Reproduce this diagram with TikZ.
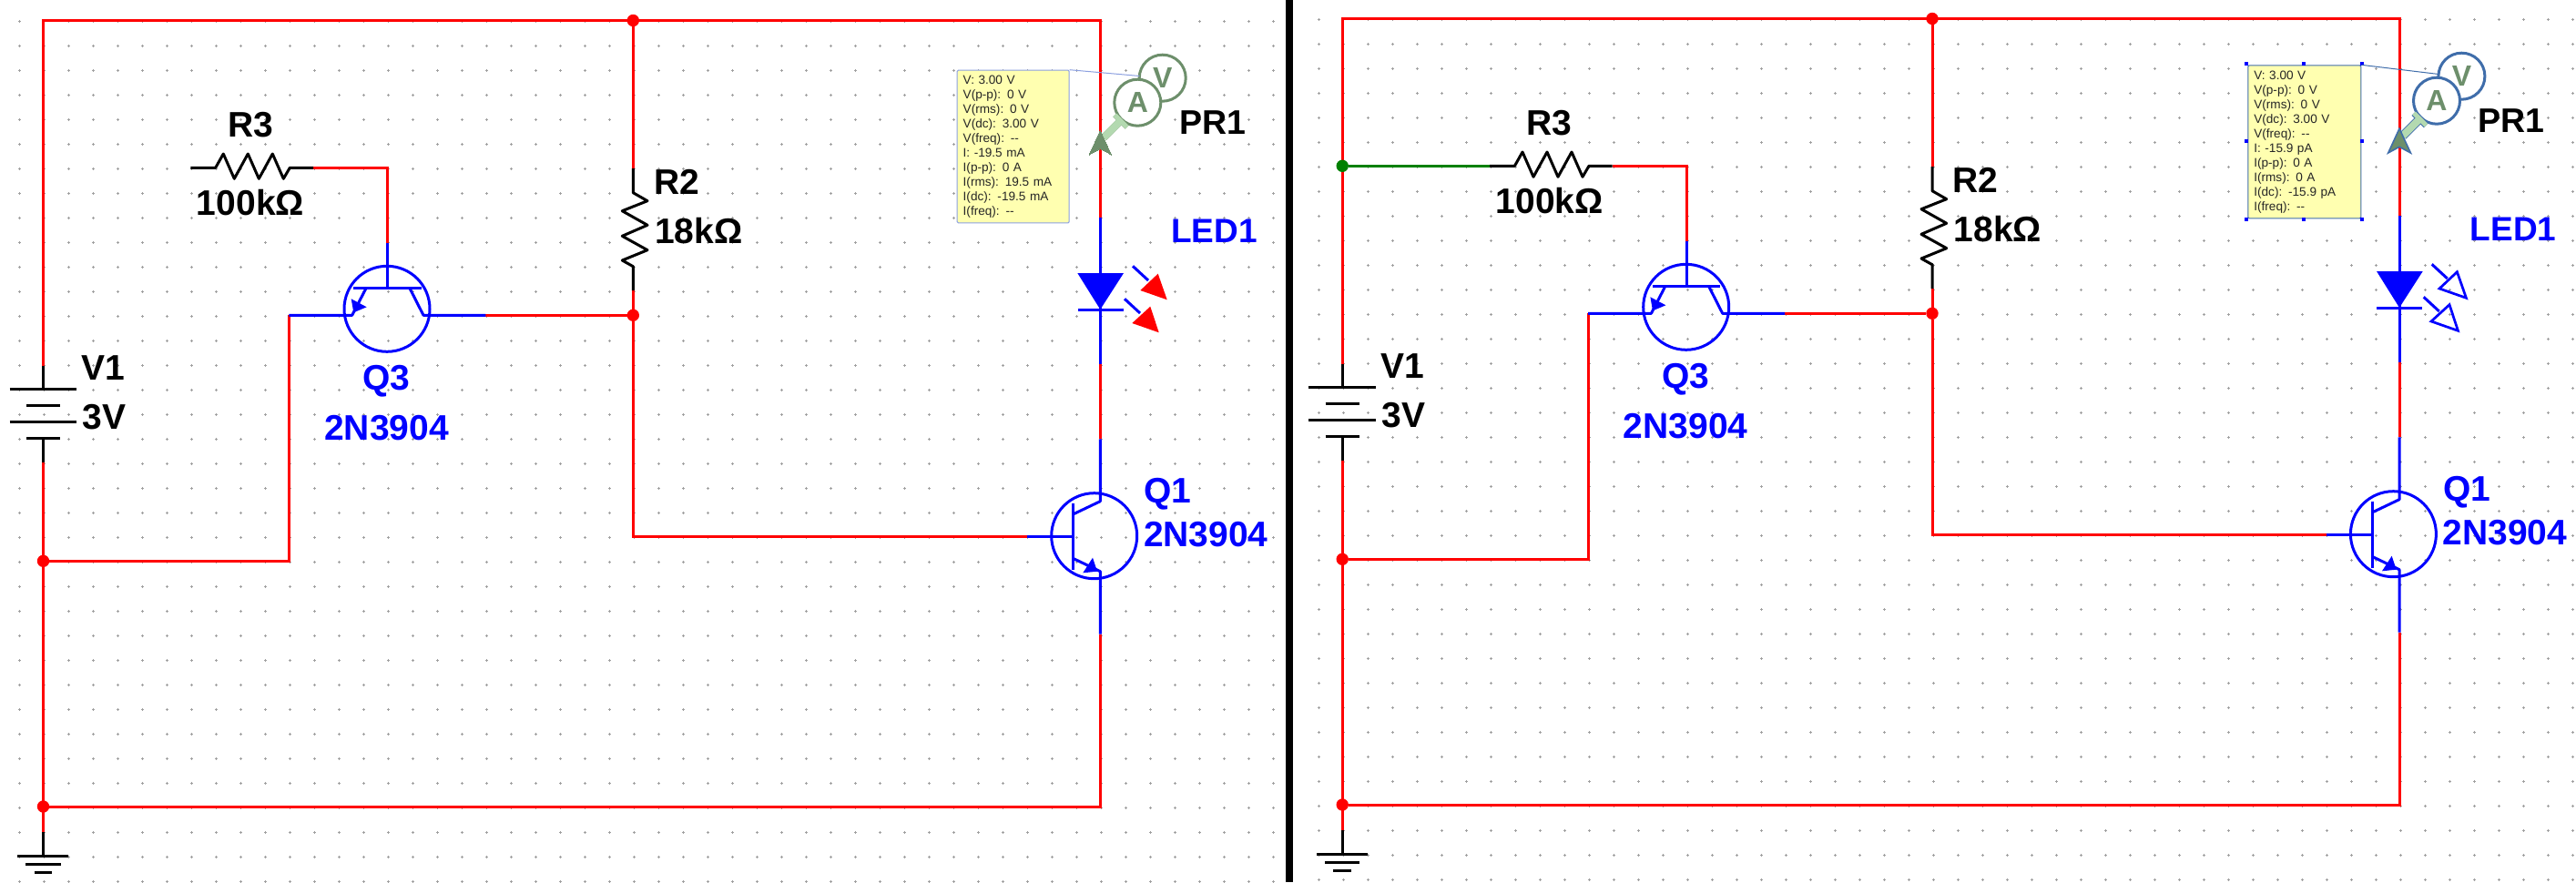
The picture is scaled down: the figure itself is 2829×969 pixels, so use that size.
\documentclass[tikz,border=0pt]{standalone}
\usepackage{fontspec}
\setmainfont{Liberation Sans}
\definecolor{wirered}{HTML}{FF0000}
\definecolor{partblue}{HTML}{0000FF}
\definecolor{netgreen}{HTML}{008000}
\definecolor{probegreen}{HTML}{6D8F6B}
\definecolor{shaftgreen}{HTML}{B3D9B0}
\definecolor{notefill}{HTML}{FFFFB0}
\definecolor{gridgrey}{HTML}{A0A0A0}
\definecolor{noteedge}{HTML}{8CA0E0}
\definecolor{selblue}{HTML}{3F6DAA}
\tikzset{
  gridmark/.style={draw=gridgrey,line width=.8pt},
  wire/.style={draw=wirered,line width=3pt,line join=miter},
  netwire/.style={draw=netgreen,line width=3pt},
  partline/.style={draw=partblue,line width=3pt,line join=round},
  blackline/.style={draw=black,line width=3pt,line join=round},
  junction/.style={circle,fill=wirered,minimum size=13.4pt,inner sep=0,outer sep=0},
  netjunction/.style={circle,fill=netgreen,minimum size=13.4pt,inner sep=0,outer sep=0},
  bjt/.style={circle,draw=partblue,line width=3pt,minimum size=94pt,inner sep=0,outer sep=0},
  reflabel/.style={inner sep=0,outer sep=0,font=\fontsize{39}{39}\selectfont\bfseries},
  bluelabel/.style={reflabel,text=partblue},
  notebox/.style={anchor=north west,rounded corners=1.2pt,fill=notefill,line width=1pt,
    inner xsep=6.5pt,inner ysep=0,align=left,font=\fontsize{13.6}{16}\selectfont,text=black!85},
  probering/.style={circle,fill=white,line width=3pt,minimum size=51pt,inner sep=0,outer sep=0,
    text=probegreen,font=\fontsize{32}{32}\selectfont\bfseries},
}
\newcommand{\circuit}{%
  % grid
  \draw[gridmark] \foreach \k in {0,...,51}{\foreach \j in {0,...,35}{
    ({21.6+27*\k-1.5},{23.3+27*\j}) -- +(3,0) ({21.6+27*\k},{23.3+27*\j-1.5}) -- +(0,3)}};
  % fixed places
  \coordinate (tl) at (47.5,22.5);
  \coordinate (bat1) at (47.5,401.7);
  \coordinate (bat2) at (47.5,508.3);
  \coordinate (gndtop) at (47.5,914);
  \coordinate (tr) at (1208.3,22.5);
  \coordinate (ledtop) at (1208.3,239.3);
  \coordinate (ledbot) at (1208.3,400);
  \coordinate (q1top) at (1208.3,482.3);
  \coordinate (q1low) at (1208.3,696.7);
  \coordinate (br) at (1208.3,886);
  \coordinate (r2top) at (695.3,185);
  \coordinate (r2bot) at (695.3,319);
  \coordinate (r3l) at (209.3,184.3);
  \coordinate (r3r) at (344,184.3);
  \coordinate (q3up) at (425.7,266.7);
  \coordinate (q3left) at (317.3,346.3);
  \coordinate (q3right) at (533.3,346.3);
  \coordinate (q1base) at (1128.3,589.3);
  \node[junction] (jt) at (695.3,22.5) {};
  \node[junction] (jm) at (695.3,346.3) {};
  \node[junction] (jb) at (47.5,616.3) {};
  \node[junction] (jg) at (47.5,886) {};
  % red wires
  \draw[wire] (bat1) -- (tl) -- (tr) -- (ledtop);
  \draw[wire] (bat2) -- (gndtop);
  \draw[wire] (jt) -- (r2top);
  \draw[wire] (r2bot) -- (jm) -- (695.3,589.3) -- (q1base);
  \draw[wire] (q3right) -- (jm);
  \draw[wire] (r3r) -- (425.7,184.3) -- (q3up);
  \draw[wire] (jb) -- (317.3,616.3) -- (q3left);
  \draw[wire] (q1low) -- (br) -- (jg);
  \draw[wire] (ledbot) -- (q1top);
  % battery
  \draw[blackline] (bat1) -- (47.5,427.3) (bat2) -- (47.5,481.3);
  \draw[blackline] (10.7,427.3) -- (84.3,427.3) (29,445.3) -- (66,445.3)
    (10.7,463.3) -- (84.3,463.3) (29,481.3) -- (66,481.3);
  % ground
  \draw[blackline] (gndtop) -- (47.5,940.3);
  \draw[blackline] (19.3,940.3) -- (75.3,940.3) (28.3,949.3) -- (66.7,949.3) (37.7,958.3) -- (57.3,958.3);
  % R3
  \draw[blackline] (r3l) -- (236.7,184.3) -- (245.3,169) -- (257.3,196.3) -- (272.3,169)
    -- (284.3,196.3) -- (299.3,169) -- (311.3,196.3) -- (318.3,184.3) -- (r3r);
  % R2
  \draw[blackline] (r2top) -- (695.3,211.7) -- (711,220.7) -- (683.3,231.7) -- (711,247.3)
    -- (683.3,259.3) -- (711,274.7) -- (683.3,286) -- (695.3,292.7) -- (r2bot);
  % Q3
  \node[bjt] (q3) at (425,339.3) {};
  \draw[partline] (q3up) -- (425.7,316.7) (388.3,316.7) -- (462.7,316.7);
  \draw[partline] (402,316.7) -- (386.7,346.3) -- (q3left);
  \draw[partline] (450,316.7) -- (465,346.3) -- (q3right);
  \fill[partblue] (385.7,328.3) -- (402.7,337.3) -- (388.3,343.3) -- cycle;
  % Q1
  \node[bjt] (q1) at (1201.7,588.7) {};
  \draw[partline] (q1base) -- (1178.3,589.3) (1178.3,552.7) -- (1178.3,626);
  \draw[partline] (q1top) -- (1208.3,550.7) -- (1178.3,565);
  \draw[partline] (1178.3,613.3) -- (1208.3,627.7) -- (q1low);
  \fill[partblue] (1200,612.7) -- (1205,627.7) -- (1189.3,629.3) -- cycle;
  % LED
  \draw[partline] (ledtop) -- (ledbot);
  \fill[partblue] (1183.3,300) -- (1234,300) -- (1208.3,340) -- cycle;
  \draw[partline] (1183.7,340.3) -- (1233.7,340.3);
  \draw[partline] (1244,292.3) -- (1261,308) (1235,328.3) -- (1252,344);
  % labels
  \node[reflabel,anchor=base west] (nv1) at (89.3,417.7) {V1};
  \node[reflabel,anchor=base west] (n3v) at (90.7,471) {3V};
  \node[reflabel,anchor=base] (nr3) at (275,150) {R3};
  \node[reflabel,anchor=base] (nr3v) at (275,236.7) {100k\symbol{"03A9}};
  \node[reflabel,anchor=base west] (nr2) at (718,213.3) {R2};
  \node[reflabel,anchor=base west] (nr2v) at (719,267.3) {18k\symbol{"03A9}};
  \node[bluelabel,anchor=base] (nq3) at (424.3,428) {Q3};
  \node[bluelabel,anchor=base] (nq3v) at (424.5,483.3) {2N3904};
  \node[bluelabel,anchor=base west] (nq1) at (1256.3,552.3) {Q1};
  \node[bluelabel,anchor=base west] (nq1v) at (1256,600) {2N3904};
  \node[bluelabel,anchor=base west,font=\fontsize{37}{37}\selectfont\bfseries] (nled) at (1286,266.7) {LED1};
  \node[reflabel,anchor=base west,font=\fontsize{37.5}{37.5}\selectfont\bfseries] (npr) at (1295,147.7) {PR1};
}
% #1 ring/outline colour, #2 outline width of the arrow
\newcommand{\probe}[2]{%
  \node[probering,draw=#1] (pv) at (1276.7,85.7) {V};
  \node[probering,draw=#1] (pa) at (1249.3,112.7) {A};
  \draw[draw=#1,line width=#2+5.5pt] (1224.3,126.3) -- (1237.7,139.7);
  \draw[draw=#1,line width=#2+8pt] (1230,133.3) -- (1212,151.3);
  \draw[draw=shaftgreen,line width=5pt] (1224.3,126.3) -- (1237.7,139.7);
  \draw[draw=shaftgreen,line width=8pt] (1230,133.3) -- (1212,151.3);
  \filldraw[fill=probegreen,draw=#1,line width=#2] (1208.3,143.3) -- (1220.7,170) -- (1208.3,163.3) -- (1196,170) -- cycle;
}
\begin{document}
\begin{tikzpicture}[x=1pt,y=-1pt]
\useasboundingbox (0,0) rectangle (2829,969);
\fill[white] (0,0) rectangle (2829,969);
\fill[black] (1412,0) rectangle (1420,969);
% left panel
\begin{scope}[name prefix=L-]
  \circuit
  \fill[wirered] (1271.7,300.7) -- (1252.3,319) -- (1281.7,329.3) -- cycle;
  \fill[wirered] (1263.3,336.7) -- (1243.3,355) -- (1272.7,365.3) -- cycle;
  \node[notebox,draw=noteedge,text width=110pt,minimum height=167.6pt] (note) at (1050.7,76.7)
   {V: 3.00 V\\V(p-p): 0 V\\V(rms): 0 V\\V(dc): 3.00 V\\V(freq): -{}-\\I: -19.5 mA\\I(p-p): 0 A\\I(rms): 19.5 mA\\I(dc): -19.5 mA\\I(freq): -{}-};
  \probe{probegreen}{0pt}
  \draw[draw=noteedge,line width=1pt] (note.north east) -- (pv.175);
\end{scope}
% right panel
\begin{scope}[shift={(1426.7,-2)},name prefix=R-]
  \circuit
  \node[netjunction] (jn) at (47.5,184.3) {};
  \draw[netwire] (jn) -- (r3l);
  \draw[partline,line width=2.7pt,line join=miter] (1271.7,300.7) -- (1252.3,319) -- (1281.7,329.3) -- cycle;
  \draw[partline,line width=2.7pt,line join=miter] (1263.3,336.7) -- (1243.3,355) -- (1272.7,365.3) -- cycle;
  \node[notebox,draw=selblue,text width=111pt,minimum height=168pt] (note) at (1041.6,73.3)
   {V: 3.00 V\\V(p-p): 0 V\\V(rms): 0 V\\V(dc): 3.00 V\\V(freq): -{}-\\I: -15.9 pA\\I(p-p): 0 A\\I(rms): 0 A\\I(dc): -15.9 pA\\I(freq): -{}-};
  \foreach \hx in {1040,1103.3,1167.3}{\foreach \hy in {71.7,242.7}{
    \fill[partblue] (\hx-2,\hy-2) rectangle (\hx+2,\hy+2);}}
  \foreach \hx in {1040,1167.3}{\fill[partblue] (\hx-2,154.7) rectangle (\hx+2,158.7);}
  \probe{selblue}{1.6pt}
  \draw[draw=selblue,line width=1pt] (note.north east) -- (pv.175);
\end{scope}
\end{tikzpicture}
\end{document}
